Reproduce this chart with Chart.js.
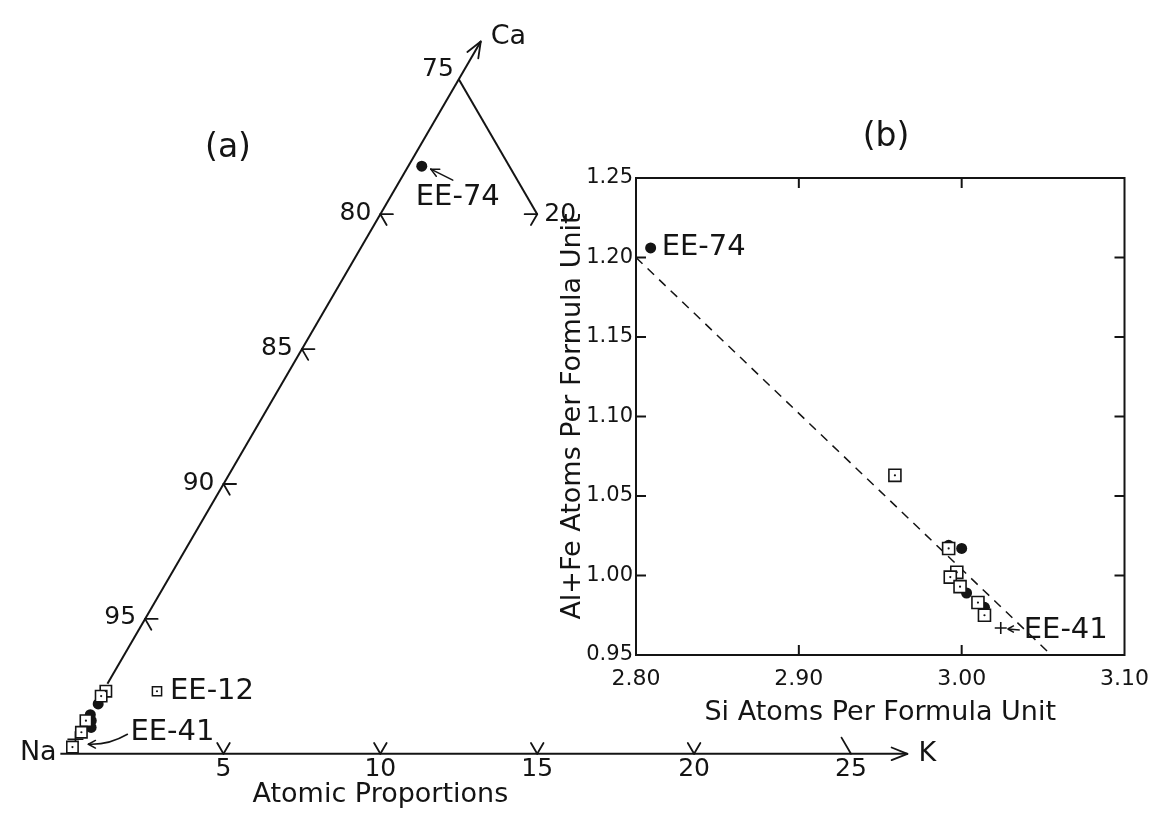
<!DOCTYPE html>
<html>
<head>
<meta charset="utf-8">
<script src="https://cdn.jsdelivr.net/npm/chart.js@4.4.1/dist/chart.umd.min.js"></script>
<style>
  html, body { margin: 0; padding: 0; background: #fff; }
  #wrap { position: relative; width: 1160px; height: 823px; }
  #wrap canvas { position: absolute; left: 0; top: 0; }
</style>
</head>
<body>
<div id="wrap">
  <canvas id="tri" width="1160" height="823"></canvas>
  <canvas id="si" width="1160" height="823"></canvas>
</div>
<script>
"use strict";

const INK = "#141414";
const FONT = "'DejaVu Sans', sans-serif";

// ----- (a) Na-Ca-K proportions, points as [Ca %, K %] ---------------------- //
const TRI_SQUARES = [[2.32, 0.09], [2.14, 0.03], [1.23, 0.0], [0.80, 0.07], [0.25, 0.06]];
const TRI_CIRCLES = [[1.85, 0.08], [1.45, 0.03], [1.23, 0.17], [0.98, 0.29]];
const TRI_EE74 = [21.78, 0.43];
const TRI_EE12 = [2.32, 1.72];
const TRI_EE41 = [0.54, 0.01];
const CA_TICKS = [5, 10, 15, 20];        // printed as Na = 100 - Ca
const K_TICKS = [5, 10, 15, 20, 25];
const EDGE_NA_CA = [[2.6, 0], [26.4, 0]];
const EDGE_NA_K = [[0, -0.2], [0, 26.8]];
const EDGE_NA75 = [[25, 0], [20, 5]];

// ----- (b) Si vs Al+Fe atoms per formula unit ------------------------------ //
const SQ_SI = [2.992, 2.997, 2.993, 2.999, 3.010, 3.014, 2.959];
const SQ_ALFE = [1.017, 1.002, 0.999, 0.993, 0.983, 0.975, 1.063];
const CIR_SI = [2.992, 3.000, 3.003, 3.014, 2.809];
const CIR_ALFE = [1.019, 1.017, 0.989, 0.980, 1.206];
const EE41_SI = 3.024, EE41_ALFE = 0.967;
const TREND_SI = [2.80, 3.055];
const TREND_ALFE = [1.20, 0.95];
const X_TICKS = [2.80, 2.90, 3.00, 3.10];
const Y_TICKS = [0.95, 1.00, 1.05, 1.10, 1.15, 1.20, 1.25];

// ----- geometry of panel (a) ------------------------------------------------ //
const NA_X = 58, NA_Y = 762, UNIT = 31.9;
const SQ3 = Math.sqrt(3) / 2;

function tern(ca, k) {
  return { x: k + ca / 2, y: ca * SQ3 };
}

// ----- drawing helpers ------------------------------------------------------ //
function seg(ctx, a, b) {
  ctx.beginPath();
  ctx.moveTo(a[0], a[1]);
  ctx.lineTo(b[0], b[1]);
  ctx.stroke();
}

function arrowHead(ctx, tip, ang, len = 17, spread = 0.38) {
  seg(ctx, tip, [tip[0] - len * Math.cos(ang - spread), tip[1] - len * Math.sin(ang - spread)]);
  seg(ctx, tip, [tip[0] - len * Math.cos(ang + spread), tip[1] - len * Math.sin(ang + spread)]);
}

function label(ctx, s, x, y, align, size) {
  ctx.font = `${size}px ${FONT}`;
  ctx.textAlign = align;
  ctx.textBaseline = "middle";
  ctx.fillText(s, x, y);
}

function lineSet(pairs) {
  return {
    data: pairs.map(p => tern(p[0], p[1])),
    showLine: true, pointRadius: 0, borderColor: INK, borderWidth: 2,
    order: 5, clip: false,
  };
}

// ----- panel (a) decorations ----------------------------------------------- //
const triDecor = {
  id: "triDecor",
  afterDatasetsDraw(chart) {
    const { ctx, scales: { x, y } } = chart;
    const P = (ca, k) => {
      const t = tern(ca, k);
      return [x.getPixelForValue(t.x), y.getPixelForValue(t.y)];
    };
    ctx.save();
    ctx.strokeStyle = INK;
    ctx.fillStyle = INK;
    ctx.lineWidth = 1.8;
    ctx.lineCap = "round";
    const T = 0.4;

    CA_TICKS.forEach(c => {
      const v = P(c, 0);
      seg(ctx, v, P(c, T));
      seg(ctx, v, P(c - T, T));
      label(ctx, String(100 - c), v[0] - 9, v[1] - 1, "right", 25);
    });
    K_TICKS.forEach(k => {
      const v = P(0, k);
      if (k < 25) {
        seg(ctx, v, P(T, k));
        seg(ctx, v, P(T, k - T));
      } else {
        seg(ctx, v, P(0.6, k - 0.6));
      }
      label(ctx, String(k), v[0], v[1] + 16, "center", 25);
    });

    // Na = 75 edge tick
    const r = P(EDGE_NA75[1][0], EDGE_NA75[1][1]);
    seg(ctx, r, P(EDGE_NA75[1][0], EDGE_NA75[1][1] - T));
    seg(ctx, r, P(EDGE_NA75[1][0] - T, EDGE_NA75[1][1]));
    label(ctx, "20", r[0] + 7, r[1], "left", 25);

    const apex = P(EDGE_NA75[0][0], EDGE_NA75[0][1]);
    label(ctx, "75", apex[0] - 5, apex[1] - 10, "right", 25);

    // axis arrows
    const caTip = P(EDGE_NA_CA[1][0], EDGE_NA_CA[1][1]);
    arrowHead(ctx, caTip, Math.atan2(caTip[1] - apex[1], caTip[0] - apex[0]));
    const kTip = P(EDGE_NA_K[1][0], EDGE_NA_K[1][1]);
    arrowHead(ctx, kTip, 0);

    label(ctx, "Ca", caTip[0] + 10, caTip[1] - 5, "left", 27);
    label(ctx, "K", kTip[0] + 11, kTip[1], "left", 27);
    const na = P(0, 0);
    label(ctx, "Na", na[0] - 10, na[1] - 1, "right", 27);
    label(ctx, "Atomic Proportions", P(0, 10)[0], na[1] + 41, "center", 27);
    label(ctx, "(a)", 228, 148, "center", 33);

    // sample labels
    ctx.lineWidth = 1.5;
    const e74 = P(TRI_EE74[0], TRI_EE74[1]);
    seg(ctx, [e74[0] + 31, e74[1] + 14], [e74[0] + 9, e74[1] + 3]);
    arrowHead(ctx, [e74[0] + 9, e74[1] + 3], Math.atan2(-11, -22), 9, 0.45);
    label(ctx, "EE-74", e74[0] - 6, e74[1] + 31, "left", 29);

    const e12 = P(TRI_EE12[0], TRI_EE12[1]);
    label(ctx, "EE-12", e12[0] + 13, e12[1], "left", 29);

    const e41 = P(TRI_EE41[0], TRI_EE41[1]);
    ctx.beginPath();
    ctx.moveTo(e41[0] + 52, e41[1] - 5);
    ctx.quadraticCurveTo(e41[0] + 33, e41[1] + 6, e41[0] + 13, e41[1] + 5);
    ctx.stroke();
    arrowHead(ctx, [e41[0] + 13, e41[1] + 5], Math.PI, 8, 0.5);
    label(ctx, "EE-41", e41[0] + 55, e41[1] - 7, "left", 29);
    ctx.restore();
  },
};

new Chart(document.getElementById("tri"), {
  type: "scatter",
  data: {
    datasets: [
      { data: TRI_SQUARES.concat([TRI_EE12]).map(p => tern(p[0], p[1])),
        pointRadius: 1.1, backgroundColor: INK, borderWidth: 0, order: 0 },
      { data: TRI_SQUARES.map(p => tern(p[0], p[1])),
        pointStyle: "rect", pointRadius: 8, backgroundColor: "#fff",
        borderColor: INK, borderWidth: 1.6, order: 1 },
      { data: [tern(TRI_EE12[0], TRI_EE12[1])],
        pointStyle: "rect", pointRadius: 6.5, backgroundColor: "#fff",
        borderColor: INK, borderWidth: 1.5, order: 1 },
      { data: TRI_CIRCLES.concat([TRI_EE74]).map(p => tern(p[0], p[1])),
        pointRadius: 5.5, backgroundColor: INK, borderColor: INK, borderWidth: 0, order: 2 },
      { data: [tern(TRI_EE41[0], TRI_EE41[1])],
        pointStyle: "cross", pointRadius: 8, borderColor: INK, borderWidth: 1.6, order: 1 },
      lineSet(EDGE_NA_CA),
      lineSet(EDGE_NA_K),
      lineSet(EDGE_NA75),
    ],
  },
  options: {
    responsive: false,
    animation: false,
    events: [],
    layout: { padding: 0 },
    plugins: { legend: { display: false }, tooltip: { enabled: false } },
    scales: {
      x: { display: false, min: -NA_X / UNIT, max: (1160 - NA_X) / UNIT },
      y: { display: false, min: -(823 - NA_Y) / UNIT, max: NA_Y / UNIT },
    },
  },
  plugins: [triDecor],
});

// ----- panel (b) frame, inward ticks, labels -------------------------------- //
const siDecor = {
  id: "siDecor",
  afterDatasetsDraw(chart) {
    const { ctx, chartArea: a, scales: { x, y } } = chart;
    ctx.save();
    ctx.strokeStyle = INK;
    ctx.fillStyle = INK;
    ctx.lineWidth = 2;
    ctx.strokeRect(a.left, a.top, a.width, a.height);
    const TL = 10;
    X_TICKS.slice(1, -1).forEach(v => {
      const px = x.getPixelForValue(v);
      seg(ctx, [px, a.bottom], [px, a.bottom - TL]);
      seg(ctx, [px, a.top], [px, a.top + TL]);
    });
    Y_TICKS.slice(1, -1).forEach(v => {
      const py = y.getPixelForValue(v);
      seg(ctx, [a.left, py], [a.left + TL, py]);
      seg(ctx, [a.right, py], [a.right - TL, py]);
    });

    ctx.lineWidth = 1.5;
    const e74 = [x.getPixelForValue(CIR_SI[4]), y.getPixelForValue(CIR_ALFE[4])];
    label(ctx, "EE-74", e74[0] + 11, e74[1], "left", 29);
    const e41 = [x.getPixelForValue(EE41_SI), y.getPixelForValue(EE41_ALFE)];
    seg(ctx, [e41[0] + 19, e41[1] + 2], [e41[0] + 7, e41[1] + 1]);
    arrowHead(ctx, [e41[0] + 7, e41[1] + 1], Math.PI, 7, 0.5);
    label(ctx, "EE-41", e41[0] + 23, e41[1] + 2, "left", 29);
    label(ctx, "(b)", 886, 137, "center", 33);
    ctx.restore();
  },
};

new Chart(document.getElementById("si"), {
  type: "scatter",
  data: {
    datasets: [
      { data: SQ_SI.map((v, i) => ({ x: v, y: SQ_ALFE[i] })),
        pointRadius: 1.1, backgroundColor: INK, borderWidth: 0, order: 0 },
      { data: SQ_SI.map((v, i) => ({ x: v, y: SQ_ALFE[i] })),
        pointStyle: "rect", pointRadius: 8.5, backgroundColor: "#fff",
        borderColor: INK, borderWidth: 1.6, order: 1 },
      { data: CIR_SI.map((v, i) => ({ x: v, y: CIR_ALFE[i] })),
        pointRadius: 5.5, backgroundColor: INK, borderWidth: 0, order: 2 },
      { data: [{ x: EE41_SI, y: EE41_ALFE }],
        pointStyle: "cross", pointRadius: 6, borderColor: INK, borderWidth: 1.6, order: 1 },
      { data: TREND_SI.map((v, i) => ({ x: v, y: TREND_ALFE[i] })),
        showLine: true, pointRadius: 0, borderColor: INK, borderWidth: 1.5,
        borderDash: [9, 7], order: 5 },
    ],
  },
  options: {
    responsive: false,
    animation: false,
    events: [],
    layout: { padding: { left: 556, top: 178, right: 33, bottom: 88 } },
    plugins: { legend: { display: false }, tooltip: { enabled: false } },
    scales: {
      x: {
        type: "linear", min: 2.8, max: 3.1,
        afterBuildTicks: s => { s.ticks = X_TICKS.map(v => ({ value: v })); },
        afterFit: s => { s.height = 80; },
        grid: { display: false, drawTicks: false },
        border: { display: false },
        ticks: { color: INK, padding: 11, maxRotation: 0, autoSkip: false,
                 font: { family: FONT, size: 22 }, callback: v => v.toFixed(2) },
        title: { display: true, text: "Si Atoms Per Formula Unit", color: INK,
                 font: { family: FONT, size: 27 }, padding: { top: 0, bottom: 6 } },
      },
      y: {
        type: "linear", min: 0.95, max: 1.25,
        afterBuildTicks: s => { s.ticks = Y_TICKS.map(v => ({ value: v })); },
        afterFit: s => { s.width = 80; },
        grid: { display: false, drawTicks: false },
        border: { display: false },
        ticks: { color: INK, padding: 3, autoSkip: false,
                 font: { family: FONT, size: 21 }, callback: v => v.toFixed(2) },
        title: { display: true, text: "Al+Fe Atoms Per Formula Unit", color: INK,
                 font: { family: FONT, size: 27 }, padding: { top: 1, bottom: 0 } },
      },
    },
  },
  plugins: [siDecor],
});
</script>
</body>
</html>
